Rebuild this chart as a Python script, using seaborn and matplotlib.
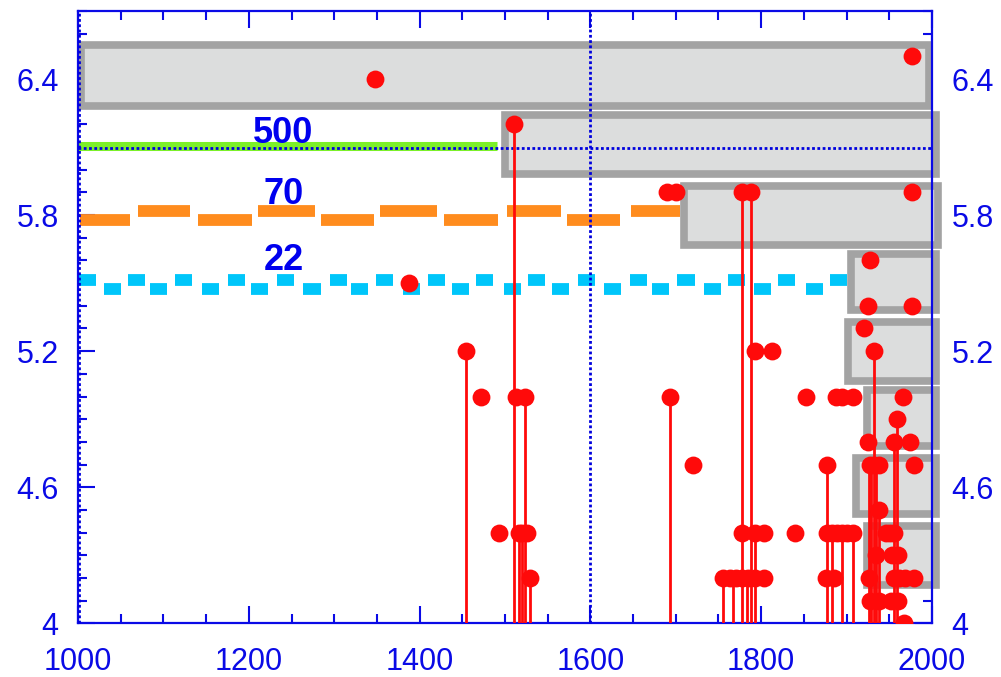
import matplotlib
matplotlib.use("Agg")
import matplotlib.pyplot as plt
import seaborn as sns
import pandas as pd
from matplotlib.patches import Rectangle
from matplotlib.ticker import MultipleLocator, FixedLocator

sns.set_style("ticks")
plt.rcParams["font.family"] = ["Liberation Sans", "DejaVu Sans"]

# events drawn as red dots (year, magnitude)
dot_year = [1348, 1388, 1454, 1472, 1493, 1511, 1513, 1524, 1516, 1520, 1526, 1529,
            1690, 1700, 1693, 1720,
            1777, 1788, 1793, 1813, 1777, 1793, 1803, 1755, 1763, 1770, 1777, 1785, 1793, 1803,
            1840, 1852,
            1877, 1877, 1883, 1889, 1895, 1901, 1908, 1876, 1885, 1888, 1895, 1908,
            1977, 1977, 1927, 1925, 1977, 1920, 1932, 1966, 1959, 1925, 1955, 1974,
            1927, 1932, 1938, 1979, 1938, 1946, 1951, 1956, 1934, 1953, 1960,
            1926, 1956, 1962, 1968, 1979, 1928, 1938, 1952, 1960, 1967]
dot_mag = [6.4, 5.5, 5.2, 5.0, 4.4, 6.2, 5.0, 5.0, 4.4, 4.4, 4.4, 4.2,
           5.9, 5.9, 5.0, 4.7,
           5.9, 5.9, 5.2, 5.2, 4.4, 4.4, 4.4, 4.2, 4.2, 4.2, 4.2, 4.2, 4.2, 4.2,
           4.4, 5.0,
           4.7, 4.4, 4.4, 4.4, 4.4, 4.4, 4.4, 4.2, 4.2, 5.0, 5.0, 5.0,
           6.5, 5.9, 5.6, 5.4, 5.4, 5.3, 5.2, 5.0, 4.9, 4.8, 4.8, 4.8,
           4.7, 4.7, 4.7, 4.7, 4.5, 4.4, 4.4, 4.4, 4.3, 4.3, 4.3,
           4.2, 4.2, 4.2, 4.2, 4.2, 4.1, 4.1, 4.1, 4.1, 4.0]

# events with a stem down to the axis
stem_year = [1454, 1511, 1516, 1520, 1524, 1529, 1693, 1755, 1767, 1777, 1783, 1788, 1793,
             1877, 1883, 1895, 1907, 1926, 1929, 1932, 1934, 1938, 1955, 1959]
stem_mag = [5.2, 6.2, 4.4, 4.4, 5.0, 4.2, 5.0, 4.2, 4.2, 5.9, 4.2, 5.9, 4.4,
            4.7, 4.4, 4.4, 4.4, 4.7, 4.7, 5.2, 4.7, 4.5, 4.8, 4.9]

# grey boxes
box_x0 = [1003, 1500, 1710, 1905, 1902, 1924, 1911, 1924]
box_x1 = [1997, 2005, 2007, 2005, 2005, 2005, 2005, 2005]
box_y0 = [6.28, 5.98, 5.67, 5.38, 5.07, 4.78, 4.48, 4.17]
box_y1 = [6.55, 6.24, 5.93, 5.63, 5.33, 5.03, 4.73, 4.43]

# level lines
green_x = [1000, 1491]
green_y = [6.105, 6.105]
orange_x0 = [1002, 1070, 1141, 1211, 1284, 1354, 1429, 1502, 1573, 1647]
orange_x1 = [1061, 1131, 1204, 1277, 1347, 1420, 1492, 1565, 1635, 1705]
orange_y = [5.78, 5.82, 5.78, 5.82, 5.78, 5.82, 5.78, 5.82, 5.78, 5.82]
cyan_x = [1011, 1040, 1068, 1094, 1123, 1155, 1185, 1213, 1243, 1274, 1305, 1330,
          1359, 1391, 1420, 1448, 1476, 1509, 1537, 1565, 1595, 1626, 1656, 1682,
          1712, 1743, 1771, 1802, 1830, 1863, 1891]
cyan_y = [5.512, 5.472] * 15 + [5.512]

level_labels = ["500", "70", "22"]
level_label_x = [1240, 1241, 1241]
level_label_y = [6.16, 5.89, 5.60]

dotted_vx = [1001, 1600]
dotted_hy = [6.097]

x_ticks = [1000, 1200, 1400, 1600, 1800, 2000]
y_ticks = [4, 4.6, 5.2, 5.8, 6.4]
y_tick_labels = ["4", "4.6", "5.2", "5.8", "6.4"]

blue = "#0a0ae6"

fig = plt.figure(figsize=(10.01, 6.77), dpi=100)
ax = fig.add_axes([0.078, 0.0793, 0.853, 0.9045])

for x0, x1, y0, y1 in zip(box_x0, box_x1, box_y0, box_y1):
    ax.add_patch(Rectangle((x0, y0), x1 - x0, y1 - y0, facecolor="#dcdddd",
                           edgecolor="#a3a3a3", linewidth=5.5, zorder=1, clip_on=False))

ax.plot(green_x, green_y, color="#7cf029", linewidth=6.5, solid_capstyle="butt", zorder=2)
ax.hlines(orange_y, orange_x0, orange_x1, color="#ff8c1e", linewidth=8.5, zorder=2)
cyan = pd.DataFrame({"x": cyan_x, "y": cyan_y})
ax.hlines(cyan["y"], cyan["x"] - 10, cyan["x"] + 10, color="#00c6fa", linewidth=8.5, zorder=2)

for vx in dotted_vx:
    ax.axvline(vx, color="#0000dd", linewidth=2, linestyle=(0, (1, 0.9)), zorder=3, clip_on=False)
for hy in dotted_hy:
    ax.axhline(hy, color="#0000dd", linewidth=2, linestyle=(0, (1, 0.9)), zorder=3)

ax.vlines(stem_year, 4, stem_mag, color="#ff0a0a", linewidth=2, zorder=4)
sns.scatterplot(x=dot_year, y=dot_mag, ax=ax, color="#ff0a0a", s=165, linewidth=0, zorder=5)

for lab, lx, ly in zip(level_labels, level_label_x, level_label_y):
    ax.text(lx, ly, lab, color="#0000ee", fontsize=26, fontweight="bold",
            ha="center", va="center", zorder=6)

ax.set_xlim(1000, 2000)
ax.set_ylim(4, 6.7)
ax.xaxis.set_major_locator(FixedLocator(x_ticks))
ax.xaxis.set_minor_locator(MultipleLocator(50))
ax.yaxis.set_major_locator(FixedLocator(y_ticks))
ax.yaxis.set_minor_locator(MultipleLocator(0.1))
ax.set_yticklabels(y_tick_labels)
ax.set_xticklabels([str(t) for t in x_ticks])

ax.tick_params(which="both", direction="in", top=True, right=True, labelright=True,
               colors=blue, width=1.5, labelsize=22)
ax.tick_params(which="major", length=12)
ax.tick_params(which="minor", length=6.5)
ax.tick_params(axis="x", pad=17)
ax.tick_params(axis="y", pad=14)
for s in ax.spines.values():
    s.set_color(blue)
    s.set_linewidth(1.6)

fig.savefig("out.png", dpi=100)
